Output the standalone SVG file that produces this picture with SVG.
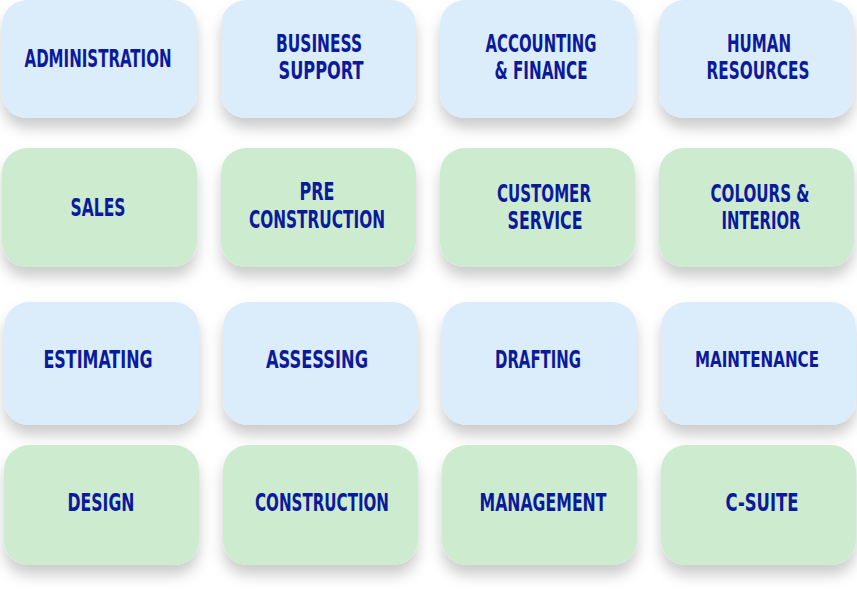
<svg xmlns="http://www.w3.org/2000/svg" width="857" height="593" viewBox="0 0 857 593">
<defs>
<filter id="sh" x="-20%" y="-20%" width="140%" height="170%">
<feDropShadow dx="0" dy="10" stdDeviation="7" flood-color="#000" flood-opacity="0.2"/>
</filter>
<style>
.b{fill:#dbecfb;filter:url(#sh)}
.g{fill:#cdebcf;filter:url(#sh)}
text{font-family:"Liberation Sans Narrow","DejaVu Sans Condensed","Liberation Sans",sans-serif;font-stretch:condensed;font-weight:bold;font-size:25px;fill:#0b1a9b;text-anchor:middle}
</style>
</defs>
<rect width="857" height="593" fill="#ffffff"/>
<g id="administration"><rect class="b" x="2" y="0" width="195" height="118" rx="25"/><text x="98" y="67" textLength="147" lengthAdjust="spacingAndGlyphs">ADMINISTRATION</text></g>
<g id="business-support"><rect class="b" x="221" y="0" width="195" height="118" rx="25"/><text x="319" y="52" textLength="86" lengthAdjust="spacingAndGlyphs">BUSINESS</text><text x="321" y="79" textLength="85" lengthAdjust="spacingAndGlyphs">SUPPORT</text></g>
<g id="accounting-finance"><rect class="b" x="440" y="0" width="195" height="118" rx="25"/><text x="541" y="52" textLength="111" lengthAdjust="spacingAndGlyphs">ACCOUNTING</text><text x="541" y="79" textLength="93" lengthAdjust="spacingAndGlyphs">&amp; FINANCE</text></g>
<g id="human-resources"><rect class="b" x="659" y="0" width="195" height="118" rx="25"/><text x="759" y="52" textLength="64" lengthAdjust="spacingAndGlyphs">HUMAN</text><text x="758" y="79" textLength="103" lengthAdjust="spacingAndGlyphs">RESOURCES</text></g>

<g id="sales"><rect class="g" x="2" y="148" width="195" height="119" rx="25"/><text x="98" y="216" textLength="55" lengthAdjust="spacingAndGlyphs">SALES</text></g>
<g id="pre-construction"><rect class="g" x="221" y="148" width="195" height="119" rx="25"/><text x="317" y="200" textLength="35" lengthAdjust="spacingAndGlyphs">PRE</text><text x="317" y="228" textLength="136" lengthAdjust="spacingAndGlyphs">CONSTRUCTION</text></g>
<g id="customer-service"><rect class="g" x="440" y="148" width="195" height="119" rx="25"/><text x="544" y="202" textLength="94" lengthAdjust="spacingAndGlyphs">CUSTOMER</text><text x="545" y="229" textLength="75" lengthAdjust="spacingAndGlyphs">SERVICE</text></g>
<g id="colours-interior"><rect class="g" x="659" y="148" width="195" height="119" rx="25"/><text x="760" y="202" textLength="99" lengthAdjust="spacingAndGlyphs">COLOURS &amp;</text><text x="761" y="229" textLength="79" lengthAdjust="spacingAndGlyphs">INTERIOR</text></g>

<g id="estimating"><rect class="b" x="4" y="302" width="195" height="123" rx="25"/><text x="98" y="368" textLength="109" lengthAdjust="spacingAndGlyphs">ESTIMATING</text></g>
<g id="assessing"><rect class="b" x="223" y="302" width="195" height="123" rx="25"/><text x="317" y="368" textLength="102" lengthAdjust="spacingAndGlyphs">ASSESSING</text></g>
<g id="drafting"><rect class="b" x="442" y="302" width="195" height="123" rx="25"/><text x="538" y="368" textLength="86" lengthAdjust="spacingAndGlyphs">DRAFTING</text></g>
<g id="maintenance"><rect class="b" x="661" y="302" width="195" height="123" rx="25"/><text x="757" y="367" style="font-size:22px" textLength="124" lengthAdjust="spacingAndGlyphs">MAINTENANCE</text></g>

<g id="design"><rect class="g" x="4" y="445" width="195" height="120" rx="25"/><text x="101" y="511" textLength="67" lengthAdjust="spacingAndGlyphs">DESIGN</text></g>
<g id="construction"><rect class="g" x="223" y="445" width="195" height="120" rx="25"/><text x="322" y="511" textLength="134" lengthAdjust="spacingAndGlyphs">CONSTRUCTION</text></g>
<g id="management"><rect class="g" x="442" y="445" width="195" height="120" rx="25"/><text x="543" y="511" textLength="127" lengthAdjust="spacingAndGlyphs">MANAGEMENT</text></g>
<g id="c-suite"><rect class="g" x="661" y="445" width="195" height="120" rx="25"/><text x="762" y="511" textLength="73" lengthAdjust="spacingAndGlyphs">C-SUITE</text></g>
<g id="connectors"/>
</svg>
